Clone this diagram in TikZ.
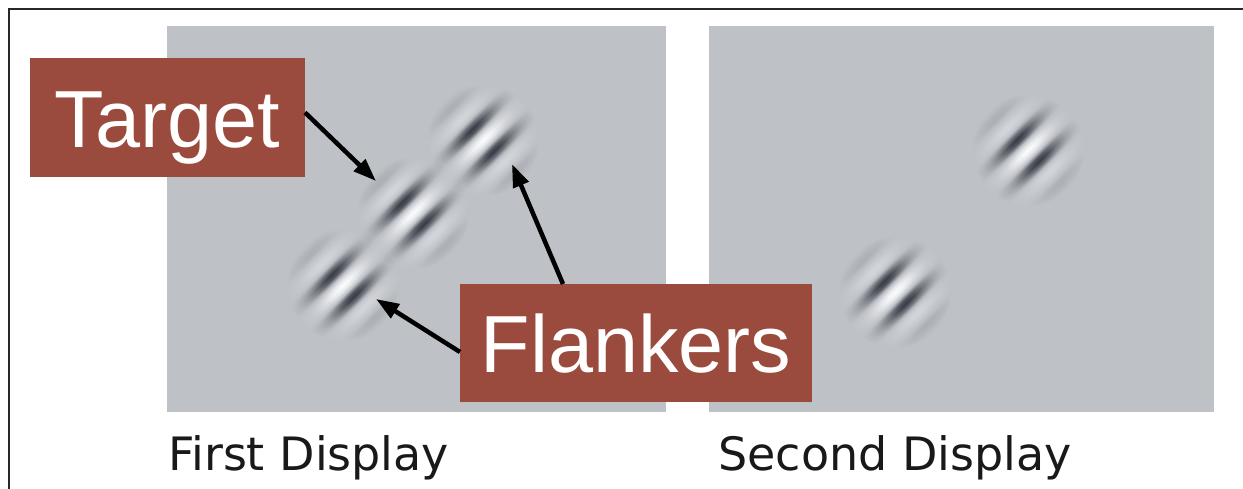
\documentclass[tikz,border=0pt]{standalone}
\usepackage{fontspec}
\setmainfont{Liberation Sans}
\newfontfamily\capfont{DejaVu Sans}
\usetikzlibrary{arrows.meta,fadings}

\definecolor{panelgray}{RGB}{190,193,198}
\definecolor{labelred}{RGB}{155,74,62}
\definecolor{gbright}{RGB}{252,253,255}
\definecolor{gdark}{RGB}{12,16,26}
\definecolor{framecol}{RGB}{40,40,40}
\colorlet{gbm}{gbright!71!panelgray}
\colorlet{gdm}{gdark!71!panelgray}

% grating: path bbox <-> 25bp..75bp ; circle radius 56pt -> 1bp = 2.24pt ; period 32pt = 14.3bp ; bright centre
\pgfdeclarehorizontalshading{gabor}{100bp}{color(0bp)=(panelgray); color(25bp)=(panelgray); color(26.79bp)=(gdm); color(28.57bp)=(gdark); color(30.36bp)=(gdm); color(32.14bp)=(panelgray); color(33.93bp)=(gbm); color(35.71bp)=(gbright); color(37.5bp)=(gbm); color(39.29bp)=(panelgray); color(41.07bp)=(gdm); color(42.86bp)=(gdark); color(44.64bp)=(gdm); color(46.43bp)=(panelgray); color(48.21bp)=(gbm); color(50bp)=(gbright); color(51.79bp)=(gbm); color(53.57bp)=(panelgray); color(55.36bp)=(gdm); color(57.14bp)=(gdark); color(58.93bp)=(gdm); color(60.71bp)=(panelgray); color(62.5bp)=(gbm); color(64.29bp)=(gbright); color(66.07bp)=(gbm); color(67.86bp)=(panelgray); color(69.64bp)=(gdm); color(71.43bp)=(gdark); color(73.21bp)=(gdm); color(75bp)=(panelgray); color(100bp)=(panelgray)}

\pgfdeclareradialshading{gaussfadeshade}{\pgfpointorigin}{color(0bp)=(white); color(3bp)=(black!5); color(6bp)=(black!18); color(9bp)=(black!36); color(12bp)=(black!55); color(15bp)=(black!71); color(18bp)=(black!83); color(21bp)=(black!91); color(24bp)=(black!97); color(25bp)=(black); color(50bp)=(black)}
\pgfdeclarefading{gfade}{\pgfuseshading{gaussfadeshade}}

\tikzset{
  panel/.style={fill=panelgray, inner sep=0pt, outer sep=0pt},
  gaborpatch/.style={shading=gabor, shading angle=-45, path fading=gfade},
  labelbox/.style={fill=labelred, text=white, inner sep=0pt, outer sep=0pt,
    font=\fontsize{81pt}{81pt}\selectfont},
  caption/.style={inner sep=0pt, text=black!90, font=\capfont\fontsize{46pt}{46pt}\selectfont, anchor=base west},
  pointer/.style={line width=4.5pt, black, -{Triangle[length=23pt,width=16pt]}},
}

\begin{document}
\begin{tikzpicture}[x=1pt,y=-1pt]
\useasboundingbox (0,0) rectangle (1243,489);
\fill[white] (0,0) rectangle (1243,489);
\draw[framecol, line width=2pt] (1243,9) -- (9,9) -- (9,489);

% panels
\node[panel, minimum width=499pt, minimum height=386pt] (p1) at (416.5,219) {};
\node[panel, minimum width=505pt, minimum height=386pt] (p2) at (961.5,219) {};

% gabor patches
\coordinate (fl1) at (343,285);
\coordinate (tg) at (413,213);
\coordinate (fu1) at (483,140);
\coordinate (fl2) at (895,292);
\coordinate (fu2) at (1028,150);
\foreach \c in {fl1,tg,fu1,fl2,fu2}{
  \path[gaborpatch] (\c) circle[radius=56];
}

% labels
\node[labelbox, minimum width=275pt, text height=90pt, text depth=29pt] (tlab) at (167.5,117.5) {Target};
\node[labelbox, minimum width=352pt, text height=88pt, text depth=30pt] (flab) at (636,343) {Flankers};

% arrow tips
\coordinate (tgtip) at (376,181);
\coordinate (futip) at (512,164);
\coordinate (fltip) at (376,299);

\draw[pointer] ([yshift=5pt]tlab.east) -- (tgtip);
\draw[pointer] ([xshift=-73pt]flab.north) -- (futip);
\draw[pointer] ([yshift=-9pt]flab.west) -- (fltip);

% captions
\node[caption] (c1) at (168,470) {First Display};
\node[caption] (c2) at (718,470) {Second Display};
\end{tikzpicture}
\end{document}
